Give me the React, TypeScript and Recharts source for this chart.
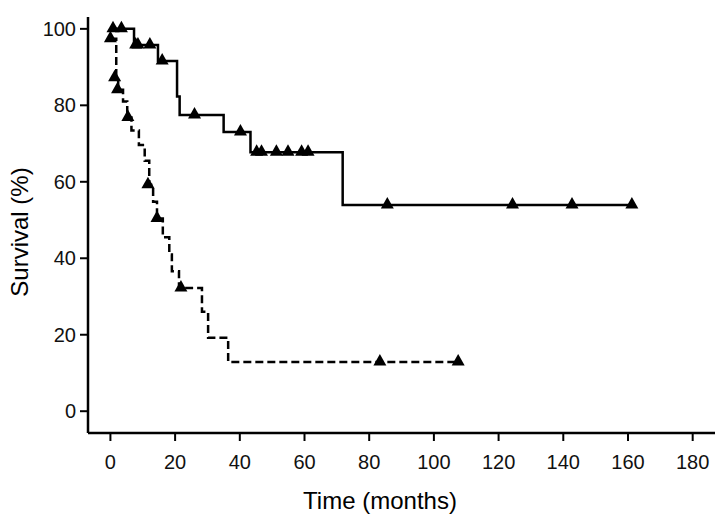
import React from "react";
import {
  ComposedChart,
  Line,
  Scatter,
  XAxis,
  YAxis,
  Label,
} from "recharts";

// Kaplan-Meier step points (time in months, survival %)
const solidTimes = [0, 7.3, 14.7, 20.6, 21.4, 35, 43.3, 71.8, 161.2];
const solidSurv = [100, 95.8, 91.6, 82.3, 77.5, 73, 67.7, 53.9, 53.9];

const dashedTimes = [0, 1.8, 2.4, 3.9, 5.2, 6.5, 8.8, 10.6, 12, 13.2, 14.4, 16.2, 18.2, 19, 21.2, 28.3, 30.2, 36.4, 107.5];
const dashedSurv = [97.4, 87.2, 84.1, 81, 76.8, 73.4, 69.6, 65.5, 59.2, 54.8, 50.4, 45.5, 41, 36.6, 32.2, 26, 19.2, 12.9, 12.9];

// censored observations (triangles)
const solidCensorTimes = [0.8, 3.4, 7.8, 8.5, 12.2, 16, 26, 40.2, 45.2, 46.7, 51.3, 54.9, 59.1, 61.1, 85.6, 124.3, 142.7, 161.2];
const solidCensorSurv = [100, 100, 95.8, 95.8, 95.8, 91.6, 77.5, 73, 67.7, 67.7, 67.7, 67.7, 67.7, 67.7, 53.9, 53.9, 53.9, 53.9];

const dashedCensorTimes = [0, 1.3, 2.2, 5.4, 11.6, 14.4, 21.8, 83.3, 107.5];
const dashedCensorSurv = [97.4, 87.2, 84.1, 76.8, 59.2, 50.4, 32.2, 12.9, 12.9];

const xTicks = [0, 20, 40, 60, 80, 100, 120, 140, 160, 180];
const yTicks = [0, 20, 40, 60, 80, 100];

const pairs = (ts: number[], ss: number[]) => ts.map((t, i) => ({ t, s: ss[i] }));

const solidData = pairs(solidTimes, solidSurv);
const dashedData = pairs(dashedTimes, dashedSurv);
const solidCensor = pairs(solidCensorTimes, solidCensorSurv);
const dashedCensor = pairs(dashedCensorTimes, dashedCensorSurv);

const font = "'Liberation Sans', Arial, sans-serif";

const Triangle = (props: any) => {
  const { cx, cy } = props;
  if (cx == null || cy == null) return null;
  return (
    <polygon
      points={`${cx - 6.5},${cy + 3.5} ${cx + 6.5},${cy + 3.5} ${cx},${cy - 8}`}
      fill="#000"
    />
  );
};

export default function App() {
  return (
    <div style={{ position: "absolute", left: 0, top: 0, background: "#fff" }}>
      <ComposedChart
        width={724}
        height={527}
        margin={{ top: 17, right: 9, bottom: 0, left: 0 }}
      >
        <XAxis
          dataKey="t"
          type="number"
          domain={[-6.93, 186.9]}
          ticks={xTicks}
          allowDataOverflow
          height={94}
          axisLine={{ stroke: "#000", strokeWidth: 2.5 }}
          tickLine={{ stroke: "#000", strokeWidth: 2 }}
          tickSize={8}
          tickMargin={14}
          tick={{ fill: "#111", fontSize: 20, fontFamily: font }}
        >
          <Label
            content={() => (
              <text
                x={380}
                y={509}
                textAnchor="middle"
                fontSize={24}
                fontFamily={font}
                fill="#000"
              >
                Time (months)
              </text>
            )}
          />
        </XAxis>
        <YAxis
          type="number"
          domain={[-5.7, 103.1]}
          ticks={yTicks}
          allowDataOverflow
          width={88}
          axisLine={{ stroke: "#000", strokeWidth: 2.5 }}
          tickLine={{ stroke: "#000", strokeWidth: 2 }}
          tickSize={8}
          tickMargin={4}
          tick={{ fill: "#111", fontSize: 20, fontFamily: font }}
        >
          <Label
            content={() => (
              <text
                x={28}
                y={232}
                transform="rotate(-90 28 232)"
                textAnchor="middle"
                fontSize={24}
                fontFamily={font}
                fill="#000"
              >
                Survival (%)
              </text>
            )}
          />
        </YAxis>
        <Line
          data={solidData}
          dataKey="s"
          type="stepAfter"
          stroke="#000"
          strokeWidth={2.5}
          dot={false}
          activeDot={false}
          isAnimationActive={false}
        />
        <Line
          data={dashedData}
          dataKey="s"
          type="stepAfter"
          stroke="#000"
          strokeWidth={2.5}
          strokeDasharray="8 4"
          dot={false}
          activeDot={false}
          isAnimationActive={false}
        />
        <Scatter
          data={solidCensor}
          dataKey="s"
          shape={<Triangle />}
          isAnimationActive={false}
        />
        <Scatter
          data={dashedCensor}
          dataKey="s"
          shape={<Triangle />}
          isAnimationActive={false}
        />
      </ComposedChart>
    </div>
  );
}
